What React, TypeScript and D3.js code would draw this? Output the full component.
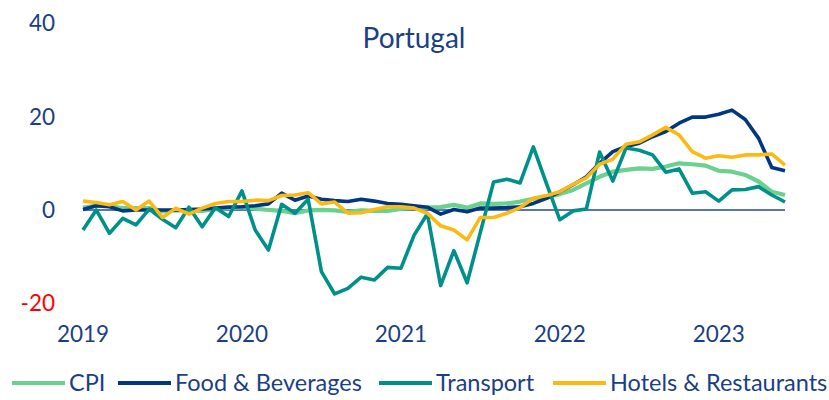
import React from "react";
import * as d3 from "d3";

const startYear = 2019;
const yearTicks = [2019, 2020, 2021, 2022, 2023];
const yTicks = [-20, 0, 20, 40];

// Monthly y/y % changes, Jan 2019 – Jun 2023
const cpi = [
  0.5, 0.9, 0.8, 0.4, 0.4, 0.4, -0.3, -0.1, -0.1, -0.2, 0.2, 0.4,
  0.6, 0.3, 0.0, -0.2, -0.7, -0.1, 0.0, -0.1, -0.4, -0.1, -0.2, -0.2,
  0.2, 0.5, 0.5, 0.6, 1.1, 0.5, 1.4, 1.3, 1.4, 1.8, 2.4, 2.8,
  3.4, 4.3, 5.7, 7.1, 8.2, 8.6, 8.9, 8.8, 9.3, 10.0, 9.8, 9.5,
  8.4, 8.2, 7.5, 6.1, 3.9, 3.2,
];

const food = [
  0.1, 0.9, 0.7, -0.2, 0.0, 0.0, 0.0, 0.0, 0.1, 0.2, 0.4, 0.6,
  0.7, 0.9, 1.3, 3.6, 2.1, 3.0, 2.3, 2.0, 1.8, 2.3, 1.9, 1.4,
  1.2, 0.9, 0.6, -0.9, 0.1, -0.4, 0.4, 0.4, 0.5, 0.7, 1.4, 2.5,
  3.9, 5.4, 7.1, 10.0, 12.5, 13.6, 14.3, 15.7, 16.8, 18.6, 19.9, 19.9,
  20.5, 21.4, 19.4, 15.4, 9.1, 8.4,
];

const transport = [
  -4.3, 0.0, -5.0, -1.8, -3.2, 0.2, -2.0, -3.8, 0.6, -3.6, 0.5, -1.4,
  4.1, -4.3, -8.6, 1.2, -0.7, 2.3, -13.2, -18.0, -16.8, -14.4, -15.0, -12.3,
  -12.5, -5.4, -0.8, -16.2, -8.7, -15.6, -4.8, 6.0, 6.6, 5.8, 13.5, 5.6,
  -2.1, -0.2, 0.2, 12.4, 6.2, 13.3, 12.8, 11.8, 8.1, 8.8, 3.6, 3.9,
  1.9, 4.3, 4.4, 5.0, 3.2, 1.7,
];

const hotels = [
  1.9, 1.6, 1.1, 1.8, 0.0, 1.9, -1.6, 0.4, -0.9, 0.4, 1.4, 1.8,
  1.8, 2.1, 2.0, 3.1, 3.2, 3.7, 1.3, 1.7, -0.7, -0.6, 0.1, 0.7,
  0.7, 0.4, -0.7, -3.4, -4.3, -6.4, -1.6, -1.6, -0.7, 0.5, 2.5, 3.1,
  3.9, 5.5, 6.9, 9.8, 10.9, 14.1, 14.6, 16.1, 17.7, 16.1, 12.5, 11.1,
  11.6, 11.3, 11.8, 11.8, 12.0, 9.6,
];

const seriesNames = ["CPI", "Food & Beverages", "Transport", "Hotels & Restaurants"];
const seriesValues = [cpi, food, transport, hotels];
const seriesColors = ["#6cd08e", "#003781", "#00908a", "#fdb913"];
const legendX = [12, 118, 379, 553];

const W = 829;
const H = 400;
const FONT = "Lato, 'Open Sans', sans-serif";
const NAVY = "#1a3f85";

export default function App() {
  const n = cpi.length;
  const x = d3.scaleLinear().domain([0, n - 1]).range([83, 785]);
  const y = d3.scaleLinear().domain([-20, 40]).range([303.3, 23.3]);
  const line = d3
    .line<number>()
    .x((_, i) => x(i))
    .y((d) => y(d));

  return (
    <svg
      width={W}
      height={H}
      style={{ position: "absolute", left: 0, top: 0, background: "#fff" }}
      fontFamily={FONT}
    >
      <text x={414} y={48} textAnchor="middle" fontSize={28} fill={NAVY}>
        Portugal
      </text>

      {yTicks.map((t) => (
        <text
          key={t}
          x={55}
          y={y(t)}
          dy="0.36em"
          textAnchor="end"
          fontSize={22.5}
          fill={t < 0 ? "#ff0000" : NAVY}
        >
          {t}
        </text>
      ))}

      {yearTicks.map((yr) => (
        <text
          key={yr}
          x={x((yr - startYear) * 12)}
          y={342}
          textAnchor="middle"
          fontSize={22.5}
          fill={NAVY}
        >
          {yr}
        </text>
      ))}

      <line
        x1={x(0)}
        x2={x(n - 1)}
        y1={y(0)}
        y2={y(0)}
        stroke="#1a4a9a"
        strokeWidth={1.6}
      />

      {seriesValues.map((vals, k) => (
        <path
          key={seriesNames[k]}
          d={line(vals) || ""}
          fill="none"
          stroke={seriesColors[k]}
          strokeWidth={k === 0 ? 4.2 : 3.6}
          strokeLinejoin="round"
        />
      ))}

      {seriesNames.map((name, k) => (
        <g key={name} transform={`translate(${legendX[k]},383)`}>
          <line x1={0} x2={53} y1={0} y2={0} stroke={seriesColors[k]} strokeWidth={4} />
          <text x={57} y={0} dy="0.36em" fontSize={23.5} fill={NAVY}>
            {name}
          </text>
        </g>
      ))}
    </svg>
  );
}
